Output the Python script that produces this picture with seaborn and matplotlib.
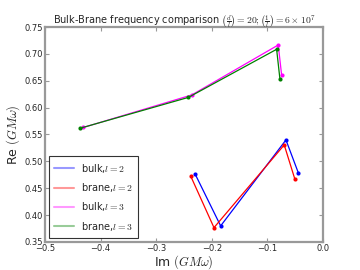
import pandas as pd
import numpy as np
import matplotlib
matplotlib.use("Agg")
import matplotlib.pyplot as plt
import seaborn as sns
from matplotlib.lines import Line2D

# data
bulk2_im = [-0.230, -0.184, -0.0665, -0.0444]
bulk2_re = [0.4765, 0.3798, 0.5398, 0.479]
brane2_im = [-0.238, -0.196, -0.0696, -0.0504]
brane2_re = [0.4728, 0.3766, 0.5305, 0.4666]
bulk3_im = [-0.431, -0.236, -0.0804, -0.0743]
bulk3_re = [0.563, 0.6235, 0.7165, 0.6607]
brane3_im = [-0.437, -0.242, -0.0833, -0.0773]
brane3_re = [0.5615, 0.619, 0.7085, 0.6527]

labels = [r'bulk,$l=2$', r'brane,$l=2$', r'bulk,$l=3$', r'brane,$l=3$']
colors = ['blue', 'red', 'magenta', 'green']

frames = []
for lab, xs, ys in zip(labels, [bulk2_im, brane2_im, bulk3_im, brane3_im],
                       [bulk2_re, brane2_re, bulk3_re, brane3_re]):
    frames.append(pd.DataFrame({'Im': xs, 'Re': ys, 'series': lab}))
df = pd.concat(frames, ignore_index=True)

sns.set_theme(style="ticks")
plt.rcParams['font.family'] = ['DejaVu Sans']
plt.rcParams['mathtext.fontset'] = 'cm'

fig = plt.figure(figsize=(3.6, 2.7), dpi=100)
ax = fig.add_axes([0.125, 0.104, 0.772, 0.796])

for lab, c in zip(labels, colors):
    d = df[df['series'] == lab]
    sns.lineplot(data=d, x='Im', y='Re', sort=False, color=c, lw=0.9,
                 marker='o', markersize=3, markeredgewidth=0, ax=ax, legend=False)

ax.set_xlim(-0.5, 0.0)
ax.set_ylim(0.35, 0.75)
ax.set_xticks(np.arange(-0.5, 0.01, 0.1))
ax.set_yticks(np.arange(0.35, 0.751, 0.05))
ax.set_xticklabels(['\u22120.5', '\u22120.4', '\u22120.3', '\u22120.2', '\u22120.1', '0.0'])
ax.set_yticklabels(['%.2f' % v for v in np.arange(0.35, 0.751, 0.05)])
ax.tick_params(direction='in', length=3, width=0.8, color='#999999',
               labelsize=6, top=True, right=True, pad=1.5)
for s in ax.spines.values():
    s.set_color('#999999')
    s.set_linewidth(1.6)

ax.set_xlabel(r'Im $(GM\omega)$', fontsize=9, labelpad=0)
ax.set_ylabel(r'Re $(GM\omega)$', fontsize=9, labelpad=2)
ax.set_title(r'Bulk-Brane frequency comparison $\left(\frac{d}{l}\right)=20;\left(\frac{1}{l}\right)=6\times10^7$',
             fontsize=7, pad=2)

handles = [Line2D([], [], color=c, lw=1.5, alpha=0.4) for c in colors]
leg = ax.legend(handles, labels, loc='lower left', fontsize=7, fancybox=False,
                frameon=True, borderaxespad=0.4, handlelength=2.0,
                labelspacing=0.65, borderpad=0.55)
leg.get_frame().set_edgecolor('black')
leg.get_frame().set_linewidth(0.8)

fig.savefig('out.png', dpi=100)
